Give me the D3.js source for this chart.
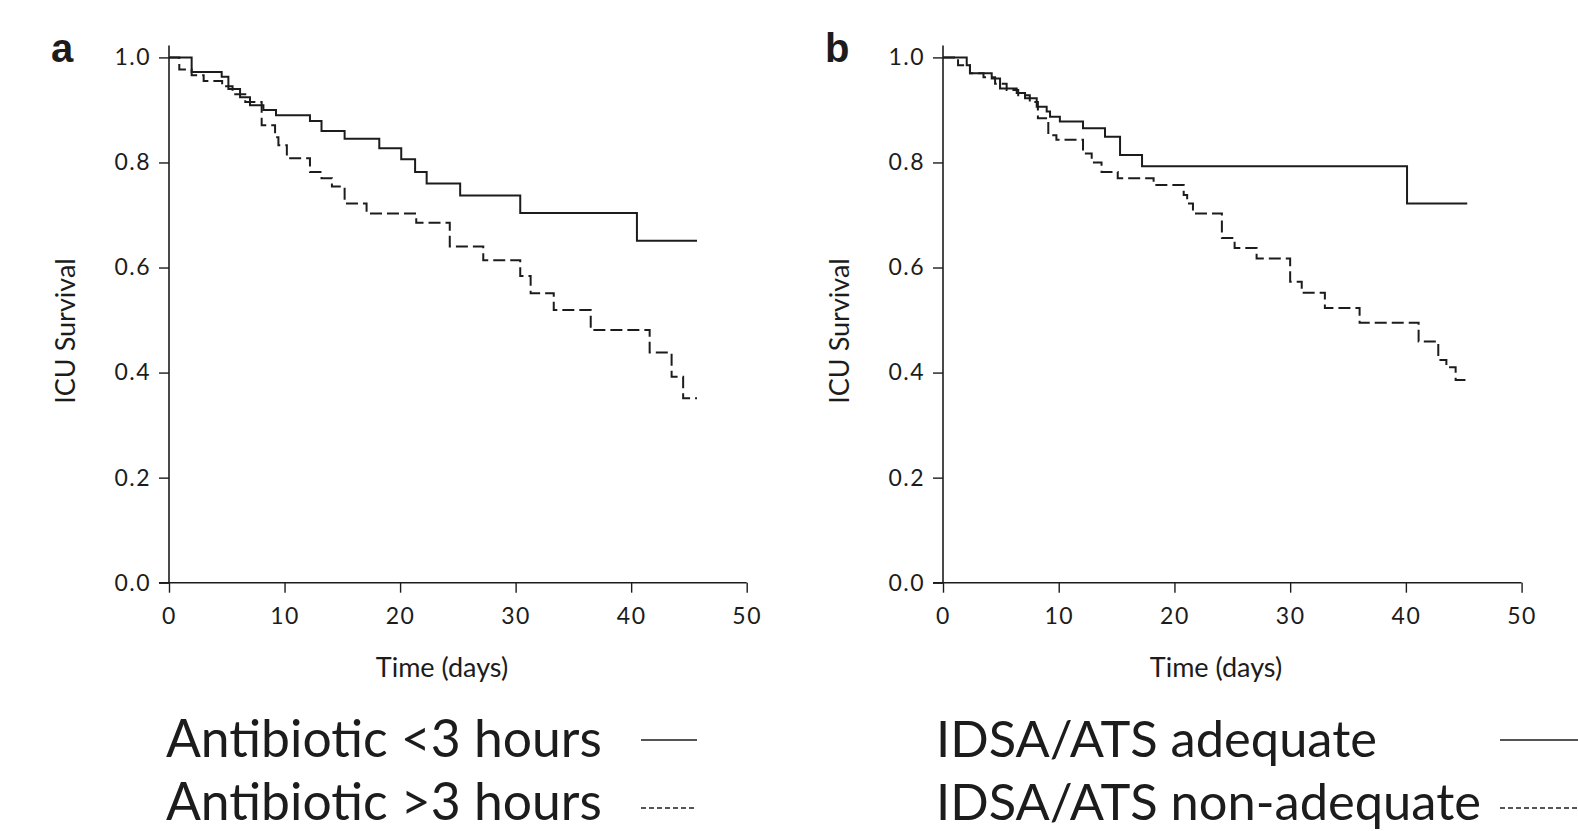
<!DOCTYPE html>
<html>
<head>
<meta charset="utf-8">
<script src="https://cdn.jsdelivr.net/npm/d3@7"></script>
<style>
  body { margin: 0; background: #fff; }
  text { font-family: Lato, "Open Sans", sans-serif; fill: #1c1c1c; }
</style>
</head>
<body>
<svg id="svg"></svg>
<script>
// axis ticks
const xTicks = [0, 10, 20, 30, 40, 50];
const yTicks = [0, 0.2, 0.4, 0.6, 0.8, 1.0];

// panel a: antibiotic timing
const earlyTime = [0, 1.96, 4.56, 5.14, 6.15, 7.01, 8.17, 9.26, 12.2, 13.2, 15.2, 18.2, 20.1, 21.3, 22.3, 25.2, 30.4, 40.5, 45.7];
const earlySurv = [1.0, 0.972, 0.963, 0.940, 0.924, 0.909, 0.900, 0.890, 0.879, 0.860, 0.845, 0.827, 0.806, 0.782, 0.760, 0.737, 0.704, 0.651, 0.651];
const lateTime = [0, 0.89, 1.96, 3.0, 4.6, 5.5, 6.6, 8.02, 9.18, 9.47, 10.2, 12.2, 13.2, 14.1, 15.2, 17.1, 21.4, 24.3, 27.2, 30.4, 31.3, 33.3, 36.5, 41.6, 43.5, 44.5, 45.7];
const lateSurv = [1.0, 0.977, 0.966, 0.955, 0.945, 0.930, 0.915, 0.871, 0.848, 0.833, 0.808, 0.782, 0.770, 0.754, 0.722, 0.703, 0.685, 0.640, 0.614, 0.584, 0.551, 0.519, 0.481, 0.438, 0.392, 0.351, 0.351];

// panel b: IDSA/ATS adequacy
const adequateTime = [0, 2.05, 2.33, 4.21, 4.93, 6.37, 7.09, 8.10, 8.96, 9.25, 10.1, 12.1, 14.0, 15.3, 17.2, 40.1, 45.3];
const adequateSurv = [1.0, 0.985, 0.970, 0.960, 0.941, 0.932, 0.922, 0.906, 0.897, 0.887, 0.878, 0.865, 0.849, 0.814, 0.793, 0.722, 0.722];
const nonAdequateTime = [0, 1.3, 2.33, 3.5, 4.5, 5.5, 6.5, 7.5, 8.2, 9.1, 9.8, 12.1, 12.85, 13.7, 15.1, 18.2, 20.8, 21.1, 21.6, 24.1, 25.2, 27.1, 30.0, 31.0, 33.0, 36.0, 41.1, 42.8, 43.5, 44.3, 45.3];
const nonAdequateSurv = [1.0, 0.985, 0.970, 0.962, 0.950, 0.938, 0.928, 0.915, 0.884, 0.852, 0.843, 0.817, 0.800, 0.782, 0.770, 0.757, 0.738, 0.722, 0.703, 0.656, 0.637, 0.617, 0.573, 0.552, 0.523, 0.495, 0.459, 0.424, 0.410, 0.386, 0.386];

const legendA = ["Antibiotic <3 hours", "Antibiotic >3 hours"];
const legendB = ["IDSA/ATS adequate", "IDSA/ATS non-adequate"];

const W = 1578, H = 831;
const ink = "#1c1c1c";

const svg = d3.select("#svg").attr("width", W).attr("height", H);
svg.append("rect").attr("width", W).attr("height", H).attr("fill", "#fff");

const zip = (t, s) => t.map((d, i) => ({t: d, s: s[i]}));

const drawPanel = (p) => {
  const x = d3.scaleLinear().domain([0, 50]).range([p.left, p.right]);
  const y = d3.scaleLinear().domain([0, 1]).range([582.7, 57.4]);
  const g = svg.append("g");

  // x axis
  const xa = g.append("g")
    .attr("transform", `translate(0,${y(0)})`)
    .call(d3.axisBottom(x).tickValues(xTicks).tickSize(10).tickPadding(15).tickSizeOuter(0));
  xa.select(".domain").remove();
  g.append("line")
    .attr("x1", x(0) - 10).attr("x2", x(50))
    .attr("y1", y(0)).attr("y2", y(0))
    .attr("stroke", ink).attr("stroke-width", 1.6);

  // y axis
  const ya = g.append("g")
    .attr("transform", `translate(${x(0)},0)`)
    .call(d3.axisLeft(y).tickValues(yTicks).tickFormat(d3.format(".1f")).tickSize(10).tickPadding(8).tickSizeOuter(0));
  ya.select(".domain").remove();
  g.append("line")
    .attr("x1", x(0)).attr("x2", x(0))
    .attr("y1", y(1) - 12).attr("y2", y(0))
    .attr("stroke", ink).attr("stroke-width", 1.6);

  g.selectAll(".tick line").attr("stroke", ink).attr("stroke-width", 1.4);
  g.selectAll(".tick text")
    .style("font-size", "23px")
    .style("font-family", "Lato, sans-serif")
    .style("letter-spacing", "1.5px")
    .attr("fill", ink);

  g.append("text")
    .attr("x", p.left + 273).attr("y", 677)
    .attr("text-anchor", "middle")
    .style("font-size", "27px")
    .text("Time (days)");

  g.append("text")
    .attr("transform", `translate(${p.left - 94},331) rotate(-90)`)
    .attr("text-anchor", "middle")
    .style("font-size", "27px")
    .text("ICU Survival");

  g.append("text")
    .attr("x", p.left - 118).attr("y", 62)
    .style("font-family", "'Liberation Sans', Arial, sans-serif")
    .style("font-weight", "bold")
    .style("font-size", "40px")
    .text(p.label);

  const line = d3.line()
    .x(d => x(d.t))
    .y(d => y(d.s))
    .curve(d3.curveStepAfter);

  g.append("path")
    .datum(p.solid)
    .attr("d", line)
    .attr("fill", "none")
    .attr("stroke", ink)
    .attr("stroke-width", 2);

  g.append("path")
    .datum(p.dashed)
    .attr("d", line)
    .attr("fill", "none")
    .attr("stroke", ink)
    .attr("stroke-width", 2)
    .attr("stroke-dasharray", "12,5");
};

drawPanel({label: "a", left: 169, right: 746.7, solid: zip(earlyTime, earlySurv), dashed: zip(lateTime, lateSurv)});
drawPanel({label: "b", left: 943, right: 1521.6, solid: zip(adequateTime, adequateSurv), dashed: zip(nonAdequateTime, nonAdequateSurv)});

// legends, sized so the first label spans the same width as in the figure
const drawLegend = (labels, left, fitWidth, lineX) => {
  const g = svg.append("g");
  const probe = g.append("text").style("font-size", "50px").text(labels[0]);
  const size = 50 * fitWidth / probe.node().getComputedTextLength();
  probe.remove();
  const rows = [757, 820];
  labels.forEach((lab, i) => {
    g.append("text")
      .attr("x", left).attr("y", rows[i])
      .style("font-size", size + "px")
      .text(lab);
  });
  g.append("line")
    .attr("x1", lineX[0]).attr("x2", lineX[1])
    .attr("y1", 740).attr("y2", 740)
    .attr("stroke", ink).attr("stroke-width", 1.6);
  g.append("line")
    .attr("x1", lineX[0]).attr("x2", lineX[1])
    .attr("y1", 808).attr("y2", 808)
    .attr("stroke", ink).attr("stroke-width", 1.4)
    .attr("stroke-dasharray", "5,3");
};

drawLegend(legendA, 166, 436, [641, 697]);
drawLegend(legendB, 936, 441, [1500, 1578]);
</script>
</body>
</html>
